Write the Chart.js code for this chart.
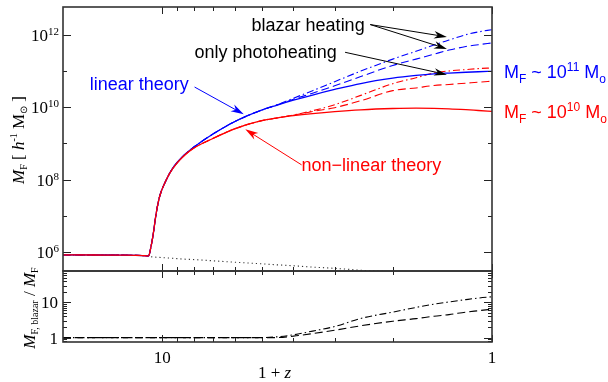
<!DOCTYPE html>
<html>
<head>
<meta charset="utf-8">
<script src="https://cdn.jsdelivr.net/npm/chart.js@4.4.1/dist/chart.umd.min.js"></script>
<style>
    html, body { margin: 0; padding: 0; background: #fff; }
    #wrap { position: relative; width: 608px; height: 382px; }
    #wrap canvas { position: absolute; left: 0; top: 0; }
</style>
</head>
<body>
<div id="wrap">
    <canvas id="topChart" width="608" height="382"></canvas>
    <canvas id="bottomChart" width="608" height="382"></canvas>
</div>
<script>
// 1 + z, from z = 19 down to today
const onePlusZ = [20, 16, 13, 11.5, 11, 10.85, 10.68, 10.43, 10.19, 9.72, 9.29, 8.66, 8.07, 7, 6, 5, 4.5, 4, 3.5, 3, 2.5, 2, 1.7, 1.5, 1.35, 1.2, 1.1, 1];

// Filtering mass M_F [h^-1 Msun], linear theory (blue)
const linearPhoto = [8.5e5, 8.4e5, 8.3e5, 8.1e5, 7.9e5, 1.25e6, 2.7e6, 1.2e7, 3.4e7, 1.0e8, 2.1e8, 4.4e8, 7.6e8, 1.85e9, 4.1e9, 8.3e9, 1.13e10, 1.56e10, 2.17e10, 3.08e10, 4.5e10, 6.3e10, 7.5e10, 8.3e10, 8.75e10, 9.2e10, 9.5e10, 9.75e10];
const linearBlazarHigh = [8.5e5, 8.4e5, 8.3e5, 8.1e5, 7.9e5, 1.25e6, 2.7e6, 1.2e7, 3.4e7, 1.0e8, 2.1e8, 4.4e8, 7.6e8, 1.85e9, 4.1e9, 8.3e9, 1.15e10, 1.77e10, 2.86e10, 5.06e10, 9.9e10, 2.12e11, 3.5e11, 5.2e11, 7.1e11, 1.0e12, 1.19e12, 1.38e12];
const linearBlazarLow = [8.5e5, 8.4e5, 8.3e5, 8.1e5, 7.9e5, 1.25e6, 2.7e6, 1.2e7, 3.4e7, 1.0e8, 2.1e8, 4.4e8, 7.6e8, 1.85e9, 4.1e9, 8.3e9, 1.14e10, 1.66e10, 2.44e10, 3.9e10, 7.0e10, 1.42e11, 2.12e11, 2.9e11, 3.76e11, 4.7e11, 5.3e11, 5.9e11];

// Filtering mass, non-linear theory (red)
const nonlinPhoto = [8.5e5, 8.4e5, 8.3e5, 8.1e5, 7.9e5, 1.25e6, 2.7e6, 1.2e7, 3.4e7, 1.0e8, 2.05e8, 4.3e8, 7.2e8, 1.39e9, 2.58e9, 4.24e9, 5.03e9, 5.82e9, 6.65e9, 7.55e9, 8.47e9, 9.2e9, 9.45e9, 9.33e9, 9.04e9, 8.53e9, 8.1e9, 7.66e9];
const nonlinBlazarHigh = [8.5e5, 8.4e5, 8.3e5, 8.1e5, 7.9e5, 1.25e6, 2.7e6, 1.2e7, 3.4e7, 1.0e8, 2.05e8, 4.3e8, 7.2e8, 1.39e9, 2.58e9, 4.24e9, 5.05e9, 6.1e9, 8.0e9, 1.17e10, 2.12e10, 4.46e10, 6.5e10, 8.8e10, 1.0e11, 1.09e11, 1.16e11, 1.21e11];
const nonlinBlazarLow = [8.5e5, 8.4e5, 8.3e5, 8.1e5, 7.9e5, 1.25e6, 2.7e6, 1.2e7, 3.4e7, 1.0e8, 2.05e8, 4.3e8, 7.2e8, 1.39e9, 2.58e9, 4.24e9, 5.04e9, 6.0e9, 7.6e9, 9.7e9, 1.51e10, 2.86e10, 3.4e10, 3.97e10, 4.24e10, 4.6e10, 4.9e10, 5.2e10];

// Jeans-like mass (dotted black)
const jeansMass = [8.5e5, 8.4e5, 8.3e5, 8.1e5, 7.9e5, 7.6e5, 7.4e5, 7.3e5, 7.2e5, 7.0e5, 6.8e5, 6.5e5, 6.3e5, 5.8e5, 5.3e5, 4.8e5, 4.5e5, 4.24e5, 3.9e5, 3.6e5, 3.2e5, 2.86e5, 2.6e5, 2.45e5, 2.3e5, 2.2e5, 2.1e5, 1.9e5];

// Lower panel: M_F,blazar / M_F
const ratioHigh = [1, 1, 1, 1, 1, 1, 1, 1, 1, 1, 1, 1, 1, 1, 1, 1, 1.05, 1.2, 1.53, 2.06, 3.5, 5.3, 7.2, 8.9, 10.3, 12, 13.3, 14.4];
const ratioLow = [1, 1, 1, 1, 1, 1, 1, 1, 1, 1, 1, 1, 1, 1, 1, 1, 1.0, 1.1, 1.3, 1.62, 2.17, 2.92, 3.45, 4.06, 4.5, 5.3, 5.8, 6.4];

// Ticks
const xMajorTicks = [10, 1];
const xMajorLabels = ['10', '1'];
const xMinorTicks = [9, 8, 7, 6, 5, 4, 3, 2];
const topYMajorTicks = [1e6, 1e8, 1e10, 1e12];
const topYMajorExps = ['6', '8', '10', '12'];
const topYMinorTicks = [1e7, 1e9, 1e11];
const bottomYMajorTicks = [1, 10];
const bottomYMajorLabels = ['1', '10'];
const bottomYMinorTicks = [0.8, 0.9, 2, 3, 4, 5, 6, 7, 8, 9, 20, 30, 40, 50, 60, 70];

const BLUE = '#0000ff';
const RED = '#ff0000';
const SERIF = '"Liberation Serif", "Times New Roman", serif';
const SANS = '"Liberation Sans", Arial, sans-serif';
const DASHED = [8, 4];
const DASHDOT = [7, 3, 1.5, 3];

function makePoints(values) {
    return onePlusZ.map(function (x, i) {
        return { x: x, y: values[i] };
    });
}

function lineSet(values, color, dash, width) {
    return {
        data: makePoints(values),
        borderColor: color,
        borderWidth: width || 1.3,
        borderDash: dash,
        pointRadius: 0,
        fill: false,
        cubicInterpolationMode: 'monotone'
    };
}

//Draw a run of text pieces (super/subscripts) starting from a point.
function drawParts(ctx, x, y, parts, align) {
    var total = 0;
    parts.forEach(function (p) {
        ctx.font = p[1];
        total += ctx.measureText(p[0]).width;
    });
    var cx = x;
    if (align === 'right') cx = x - total;
    if (align === 'center') cx = x - total / 2;
    ctx.textAlign = 'left';
    parts.forEach(function (p) {
        ctx.font = p[1];
        ctx.fillText(p[0], cx, y + (p[2] || 0));
        cx += ctx.measureText(p[0]).width;
    });
}

function drawArrow(ctx, x1, y1, x2, y2, color) {
    var ang = Math.atan2(y2 - y1, x2 - x1);
    var c = Math.cos(ang), s = Math.sin(ang);
    var len = 13, half = 3.8;
    ctx.strokeStyle = color;
    ctx.fillStyle = color;
    ctx.lineWidth = 1;
    ctx.setLineDash([]);
    ctx.beginPath();
    ctx.moveTo(x1, y1);
    ctx.lineTo(x2 - len * 0.6 * c, y2 - len * 0.6 * s);
    ctx.stroke();
    ctx.beginPath();
    ctx.moveTo(x2, y2);
    ctx.lineTo(x2 - len * c + half * s, y2 - len * s - half * c);
    ctx.lineTo(x2 - len * 0.7 * c, y2 - len * 0.7 * s);
    ctx.lineTo(x2 - len * c - half * s, y2 - len * s + half * c);
    ctx.closePath();
    ctx.fill();
}

//Frame with inward ticks on all four sides.
function drawFrame(chart, yMajor, yMinor) {
    var ctx = chart.ctx;
    var area = chart.chartArea;
    var xs = chart.scales.x;
    var ys = chart.scales.y;

    ctx.save();
    ctx.strokeStyle = '#222';
    ctx.lineWidth = 1;
    ctx.setLineDash([]);
    ctx.beginPath();
    function tickX(v, len) {
        var p = Math.round(xs.getPixelForValue(v)) + 0.5;
        ctx.moveTo(p, area.top); ctx.lineTo(p, area.top + len);
        ctx.moveTo(p, area.bottom); ctx.lineTo(p, area.bottom - len);
    }
    function tickY(v, len) {
        var p = Math.round(ys.getPixelForValue(v)) + 0.5;
        ctx.moveTo(area.left, p); ctx.lineTo(area.left + len, p);
        ctx.moveTo(area.right, p); ctx.lineTo(area.right - len, p);
    }
    xMajorTicks.forEach(function (v) { tickX(v, 7); });
    xMinorTicks.forEach(function (v) { tickX(v, 4); });
    yMajor.forEach(function (v) { tickY(v, 8); });
    yMinor.forEach(function (v) { tickY(v, 4); });
    ctx.stroke();

    ctx.lineWidth = 1.6;
    ctx.strokeStyle = '#333';
    ctx.strokeRect(area.left, area.top, area.right - area.left, area.bottom - area.top);
    ctx.restore();
}

var topDecorPlugin = {
    id: 'topDecor',
    afterDraw: function (chart) {
        var ctx = chart.ctx;
        var area = chart.chartArea;
        var xs = chart.scales.x;
        var ys = chart.scales.y;

        drawFrame(chart, topYMajorTicks, topYMinorTicks);

        ctx.save();
        ctx.fillStyle = '#000';
        ctx.textBaseline = 'alphabetic';

        //Left tick labels 10^n
        topYMajorTicks.forEach(function (v, i) {
            var py = ys.getPixelForValue(v);
            drawParts(ctx, area.left - 4, py + 6, [
                ['10', '17px ' + SERIF, 0],
                [topYMajorExps[i], '11px ' + SERIF, -6]
            ], 'right');
        });

        //Axis title
        ctx.save();
        ctx.translate(24, 140);
        ctx.rotate(-Math.PI / 2);
        drawParts(ctx, 0, 0, [
            ['M', 'italic 17px ' + SERIF, 0],
            ['F', '10px ' + SERIF, 3],
            [' [ ', '17px ' + SERIF, 0],
            ['h', 'italic 17px ' + SERIF, 0],
            ['-1', '10px ' + SERIF, -7],
            [' M', '17px ' + SERIF, 0],
            ['\u2299', '10px ' + SERIF, 3],
            [' ]', '17px ' + SERIF, 0]
        ], 'center');
        ctx.restore();

        //Text annotations and arrows, anchored in data coordinates
        function px(x) { return xs.getPixelForValue(x); }
        function py(y) { return ys.getPixelForValue(y); }

        ctx.font = '18px ' + SANS;
        ctx.textBaseline = 'middle';
        ctx.textAlign = 'left';

        ctx.fillStyle = '#000';
        ctx.fillText('blazar heating', px(5.36), py(1.71e12));
        drawArrow(ctx, px(2.34), py(1.9e12), px(1.37), py(8.7e11), '#000');
        drawArrow(ctx, px(2.34), py(1.9e12), px(1.37), py(4.06e11), '#000');

        ctx.fillStyle = '#000';
        ctx.fillText('only photoheating', px(7.98), py(3.14e11));
        drawArrow(ctx, px(2.79), py(3.27e11), px(1.37), py(7.9e10), '#000');

        ctx.fillStyle = BLUE;
        ctx.fillText('linear theory', px(16.6), py(4.19e10));
        drawArrow(ctx, px(7.98), py(3.6e10), px(5.66), py(6.4e9), BLUE);

        ctx.fillStyle = RED;
        ctx.fillText('non\u2212linear theory', px(3.78), py(2.42e8));
        drawArrow(ctx, px(3.78), py(2.57e8), px(5.6), py(2.45e9), RED);

        //Labels beside the curve ends
        ctx.textBaseline = 'alphabetic';
        var labelX = area.right + 12;
        ctx.fillStyle = BLUE;
        drawParts(ctx, labelX, py(linearPhoto[linearPhoto.length - 1]) + 6.5, [
            ['M', '18px ' + SANS, 0],
            ['F', '12px ' + SANS, 5],
            [' ~ 10', '18px ' + SANS, 0],
            ['11', '12px ' + SANS, -7],
            [' M', '18px ' + SANS, 0],
            ['o', '12px ' + SANS, 5]
        ], 'left');
        ctx.fillStyle = RED;
        drawParts(ctx, labelX, py(nonlinPhoto[nonlinPhoto.length - 1]) + 6.5, [
            ['M', '18px ' + SANS, 0],
            ['F', '12px ' + SANS, 5],
            [' ~ 10', '18px ' + SANS, 0],
            ['10', '12px ' + SANS, -7],
            [' M', '18px ' + SANS, 0],
            ['o', '12px ' + SANS, 5]
        ], 'left');

        ctx.restore();
    }
};

var bottomDecorPlugin = {
    id: 'bottomDecor',
    afterDraw: function (chart) {
        var ctx = chart.ctx;
        var area = chart.chartArea;
        var xs = chart.scales.x;
        var ys = chart.scales.y;

        drawFrame(chart, bottomYMajorTicks, bottomYMinorTicks);

        ctx.save();
        ctx.fillStyle = '#000';
        ctx.textBaseline = 'alphabetic';

        bottomYMajorTicks.forEach(function (v, i) {
            drawParts(ctx, area.left - 5, ys.getPixelForValue(v) + 6, [
                [bottomYMajorLabels[i], '17px ' + SERIF, 0]
            ], 'right');
        });

        xMajorTicks.forEach(function (v, i) {
            drawParts(ctx, xs.getPixelForValue(v), area.bottom + 21, [
                [xMajorLabels[i], '17px ' + SERIF, 0]
            ], 'center');
        });

        drawParts(ctx, (area.left + area.right) / 2 - 3, 378, [
            ['1 + ', '17px ' + SERIF, 0],
            ['z', 'italic 17px ' + SERIF, 0]
        ], 'center');

        ctx.save();
        ctx.translate(35, 308);
        ctx.rotate(-Math.PI / 2);
        drawParts(ctx, 0, 0, [
            ['M', 'italic 17px ' + SERIF, 0],
            ['F, blazar', '10px ' + SERIF, 3],
            [' / ', '17px ' + SERIF, 0],
            ['M', 'italic 17px ' + SERIF, 0],
            ['F', '10px ' + SERIF, 3]
        ], 'center');
        ctx.restore();

        ctx.restore();
    }
};

function GenerateTopChart() {
    var topChartControl = document.getElementById('topChart');

    new Chart(topChartControl, {
        type: 'line',
        data: {
            datasets: [
                lineSet(nonlinPhoto, RED, []),
                lineSet(linearPhoto, BLUE, []),
                lineSet(nonlinBlazarHigh, RED, DASHDOT, 1.1),
                lineSet(nonlinBlazarLow, RED, DASHED, 1.1),
                lineSet(linearBlazarHigh, BLUE, DASHDOT, 1.1),
                lineSet(linearBlazarLow, BLUE, DASHED, 1.1),
                lineSet(jeansMass, '#333', [1.2, 3], 1.1)
            ]
        },
        options: {
            responsive: false,
            animation: false,
            devicePixelRatio: 1,
            layout: {
                padding: { left: 63, right: 116, top: 7, bottom: 111 }
            },
            scales: {
                x: { type: 'logarithmic', reverse: true, min: 1, max: 20, display: false },
                y: { type: 'logarithmic', min: 3.04e5, max: 5.8e12, display: false }
            },
            plugins: {
                legend: { display: false },
                tooltip: { enabled: false }
            }
        },
        plugins: [topDecorPlugin]
    });
}

function GenerateBottomChart() {
    var bottomChartControl = document.getElementById('bottomChart');

    new Chart(bottomChartControl, {
        type: 'line',
        data: {
            datasets: [
                lineSet(ratioHigh, '#000', DASHDOT, 1.1),
                lineSet(ratioLow, '#000', DASHED, 1.1)
            ]
        },
        options: {
            responsive: false,
            animation: false,
            devicePixelRatio: 1,
            layout: {
                padding: { left: 63, right: 116, top: 271, bottom: 40 }
            },
            scales: {
                x: { type: 'logarithmic', reverse: true, min: 1, max: 20, display: false },
                y: { type: 'logarithmic', min: 0.75, max: 78, display: false }
            },
            plugins: {
                legend: { display: false },
                tooltip: { enabled: false }
            }
        },
        plugins: [bottomDecorPlugin]
    });
}

GenerateTopChart();
GenerateBottomChart();
</script>
</body>
</html>
